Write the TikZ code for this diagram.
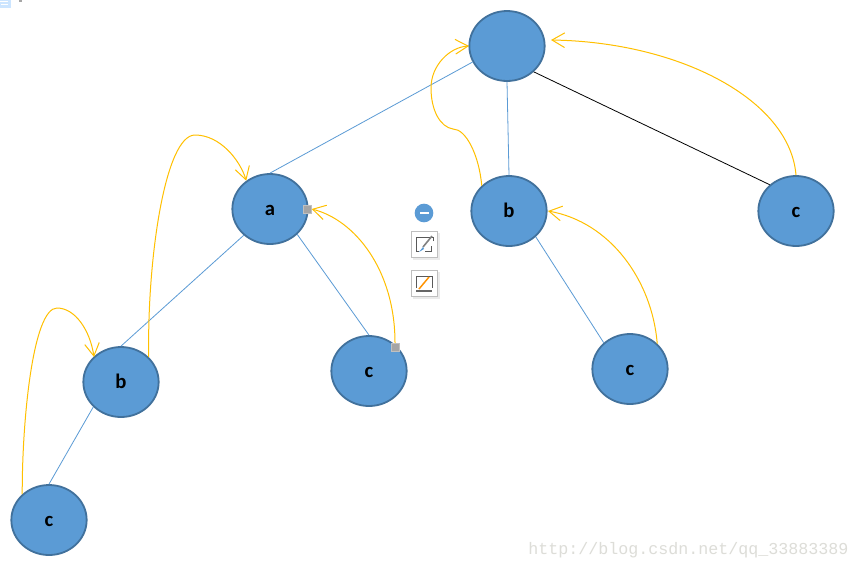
\documentclass[tikz,border=0pt]{standalone}
\usepackage{fontspec}
\setmainfont{Carlito}
\newfontfamily\wmfont{Liberation Mono}
\usetikzlibrary{shapes.geometric,arrows.meta,calc}
\definecolor{nodefill}{HTML}{5B9BD5}
\definecolor{nodeedge}{HTML}{41719C}
\definecolor{linkblue}{HTML}{5B9BD5}
\definecolor{curveyellow}{HTML}{FFC000}
\definecolor{handlegrey}{HTML}{A5A5A5}
\definecolor{wmgrey}{HTML}{DDDDD8}
\newcommand{\lbl}[1]{\raisebox{-4.6pt}[0pt][0pt]{#1}}
\tikzset{
  tree/.style={ellipse,draw=nodeedge,fill=nodefill,line width=1.35pt,minimum width=56.5pt,minimum height=52.5pt,inner sep=0pt,font=\fontsize{15.5}{17}\selectfont\bfseries,text=black},
  link/.style={draw=linkblue,line width=0.6pt},
  blacklink/.style={draw=black,line width=0.6pt},
  thread/.style={draw=curveyellow,line width=0.75pt,-{Straight Barb[length=9.5pt,width=11pt,line width=0.75pt]}},
  handle/.style={draw=handlegrey!70!white,fill=handlegrey,line width=0.3pt,minimum size=6pt,inner sep=0pt},
  toolbox/.style={draw=black!25,fill=white,line width=0.7pt,minimum size=19.5pt,inner sep=0pt},
}
\begin{document}
\begin{tikzpicture}[x=0.75pt,y=-0.75pt]
\useasboundingbox (0,0) rectangle (859,568);
\fill[white] (0,0) rectangle (859,568);
% top-left fragment
\fill[blue!50!cyan!20] (0,0) rectangle (10.5,8);
\draw[white,line width=0.6pt] (0,1.5) -- (8,1.5) (1,4.5) -- (8,4.5);
\fill[black!35] (19,0) rectangle (22,1.5);
% nodes
\node[tree] (root) at (507,46) {};
\node[tree] (a) at (270,209) {\lbl{a}};
\node[tree] (b1) at (509,211) {\lbl{b}};
\node[tree] (c1) at (796,211) {\lbl{c}};
\node[tree] (b2) at (121,382) {\lbl{b}};
\node[tree] (c2) at (369,371) {\lbl{c}};
\node[tree] (c3) at (630,369) {\lbl{c}};
\node[tree] (c4) at (49,520) {\lbl{c}};
% links
\draw[link] (root.205) -- (a.north);
\draw[link] (root.south) -- (b1.north);
\draw[blacklink] (root.316) -- (c1.135);
\draw[link] (a.225) -- (b2.north);
\draw[link] (a.317) -- (c2.north);
\draw[link] (b1.316) -- (c3.135);
\draw[link] (b2.222) -- (c4.north);
% handles
\node[handle] (h1) at (307.5,209) {};
\node[handle] (h2) at (395,347) {};
% yellow threads
\coordinate (p1) at (57,308);
\coordinate (p2) at (195,135);
\coordinate (p3) at (453,129);
\draw[thread] (c4.136) .. controls (22,420) and (33,308) .. (p1) .. controls (75,308) and (90,330) .. (94,357);
\draw[thread] (b2.42) .. controls (147,260) and (165,135) .. (p2) .. controls (220,135) and (240,160) .. (a.130);
\draw[thread] (h2) .. controls (395,270) and (355,220) .. (h1.east);
\draw[thread] (b1.137) .. controls (479,155) and (466,129) .. (p3) .. controls (440,127) and (431,110) .. (431,88) .. controls (431,65) and (450,47) .. (469,46);
\draw[thread] (c3.43) .. controls (652,280) and (610,222) .. (548,211);
\draw[thread] (c1.north) .. controls (790,100) and (680,42) .. (551,40);
% floating toolbar
\node[circle,fill=nodefill,minimum size=14pt,inner sep=0pt] (minus) at (424,213) {};
\fill[white] (419.5,211.8) rectangle (428.5,214.2);
\fill[black!8] (413,233) rectangle (440,260);
\node[toolbox] (t1) at (424,244) {};
\draw[black!65,line width=0.6pt] (433,241) -- (433,237) -- (416,237) -- (416,251) -- (419,251) (425,251) -- (431,251) -- (431,246);
\draw[black!50,line width=1.2pt] (432,236) -- (423,247);
\fill[nodefill] (419,252) -- (423,247) -- (424,249) -- cycle;
\fill[black!8] (413,272) rectangle (440,299);
\node[toolbox] (t2) at (424,283) {};
\draw[black!65,line width=0.6pt] (416,288) -- (416,276) -- (432,276) -- (432,288);
\draw[orange!85!yellow,line width=1.1pt] (429,277) -- (419,289);
\draw[black!60,line width=1.2pt] (416,291) -- (432,291);
% watermark
\node[anchor=base west,inner sep=0pt,text=wmgrey,font=\wmfont\fontsize{12.5}{14}\selectfont] (wm) at (528,554) {http://blog.csdn.net/qq\_33883389};
\end{tikzpicture}
\end{document}
